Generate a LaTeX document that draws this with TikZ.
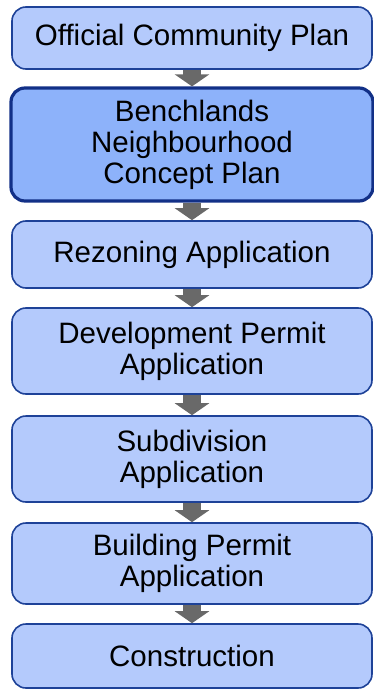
\documentclass[tikz,border=0pt]{standalone}
\usepackage{fontspec}
\setmainfont{Liberation Sans}
\usetikzlibrary{arrows.meta}

\definecolor{stagefill}{RGB}{180,202,252}
\definecolor{planfill}{RGB}{141,178,250}
\definecolor{stageline}{RGB}{30,66,152}
\definecolor{planline}{RGB}{18,48,135}
\definecolor{flowgray}{RGB}{105,105,105}

\tikzset{
  stagebox/.style={
    draw=stageline,
    line width=1.6pt,
    rounded corners=14pt,
    fill=stagefill,
    minimum width=360pt,
    align=center,
    inner sep=0pt,
    font=\fontsize{29.5}{31}\selectfont
  },
  flow/.style={
    draw=flowgray,
    line width=18pt,
    -{Triangle[width=34pt,length=12pt]}
  }
}

\begin{document}
\begin{tikzpicture}
      \useasboundingbox (0,0) rectangle (373pt,-690pt);

      % Stages of the approval process
      \node[stagebox, minimum height=62pt] (ocp) at (192pt,-38pt) {Official Community Plan};
      \node[
        stagebox,
        draw=planline,
        fill=planfill,
        line width=3.2pt,
        minimum width=362pt,
        minimum height=113pt
      ] (concept) at (192pt,-144.5pt) {Benchlands\\Neighbourhood\\Concept Plan};
      \node[stagebox, minimum height=67pt] (rezoning) at (192pt,-254.5pt) {Rezoning Application};
      \node[stagebox, minimum height=86pt] (devpermit) at (192pt,-351pt) {Development Permit\\Application};
      \node[stagebox, minimum height=86pt] (subdivision) at (192pt,-459pt) {Subdivision\\Application};
      \node[stagebox, minimum height=81pt] (buildpermit) at (192pt,-563.5pt) {Building Permit\\Application};
      \node[stagebox, minimum height=64pt] (construction) at (192pt,-656pt) {Construction};

      % Gray arrows between the stages
      \draw[flow] (ocp.south) -- (concept.north);
      \draw[flow] (concept.south) -- (rezoning.north);
      \draw[flow] (rezoning.south) -- (devpermit.north);
      \draw[flow] (devpermit.south) -- (subdivision.north);
      \draw[flow] (subdivision.south) -- (buildpermit.north);
      \draw[flow] (buildpermit.south) -- (construction.north);

\end{tikzpicture}
\end{document}
